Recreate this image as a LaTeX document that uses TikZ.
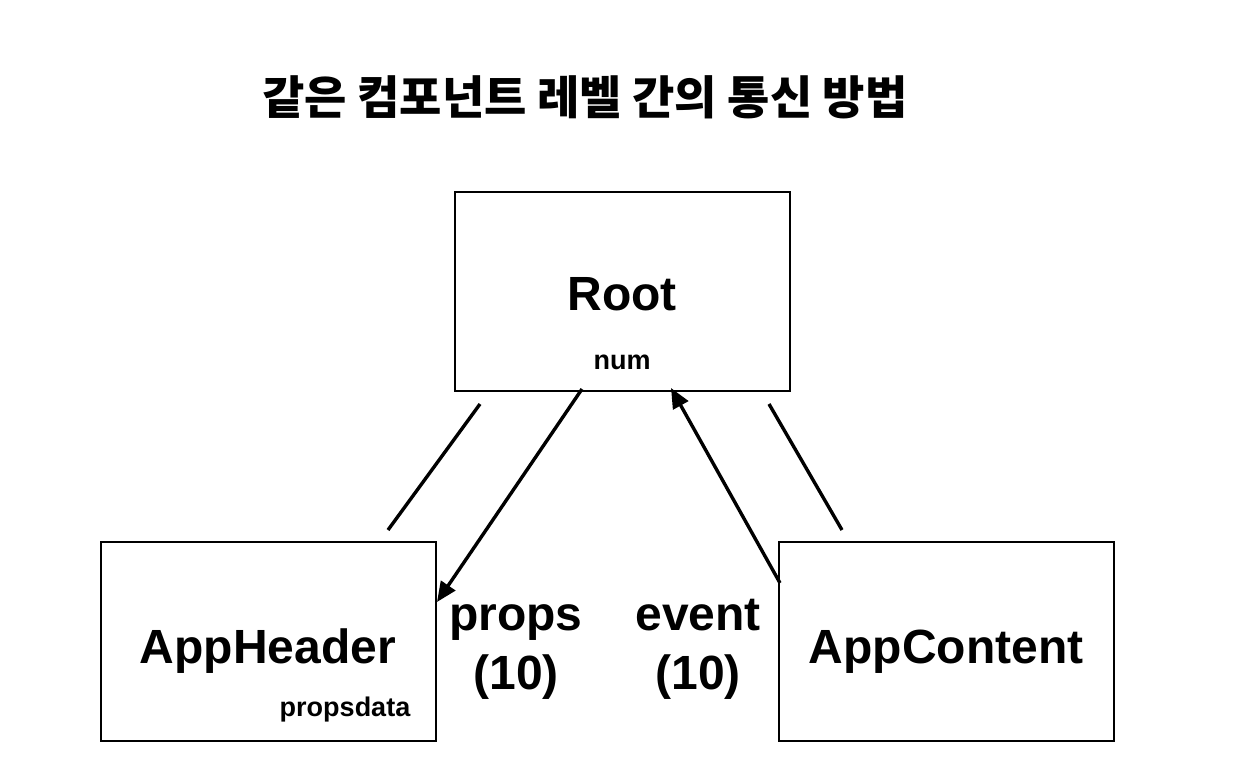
\documentclass[tikz,border=0pt]{standalone}
\usepackage{fontspec}
\setmainfont{Liberation Sans}
\newfontfamily\krfont{Noto Sans CJK KR}
\usetikzlibrary{arrows.meta}
\tikzset{
  box/.style={draw=black,line width=2pt,minimum width=335pt,minimum height=199pt,inner sep=0pt},
  big/.style={font=\fontsize{48}{52}\selectfont\bfseries,anchor=base,inner sep=0pt},
  small/.style={font=\fontsize{27}{30}\selectfont\bfseries,anchor=base,inner sep=0pt},
  link/.style={line width=3.4pt},
  arrowlink/.style={line width=3.4pt,-{Triangle[length=20pt,width=17pt]}}
}
\begin{document}
\begin{tikzpicture}[x=1pt,y=-1pt]
\useasboundingbox (0,0) rectangle (1246,782);
\node[font=\krfont\fontsize{46}{50}\selectfont\bfseries,anchor=base,inner sep=0pt] (title) at (585,114) {같은 컴포넌트 레벨 간의 통신 방법};
\node[box] (root) at (622.5,291.5) {};
\node[box] (header) at (268.5,641.5) {};
\node[box] (content) at (946.5,641.5) {};
\node[big] (rootlbl) at (622,310) {Root};
\node[small] (num) at (622,369) {num};
\node[big] (headerlbl) at (268,663) {AppHeader};
\node[small] (pdata) at (345,716) {propsdata};
\node[big] (contentlbl) at (946,663) {AppContent};
\node[big] (props) at (516,630) {props};
\node[big] (props10) at (516,689) {(10)};
\node[big] (event) at (698,630) {event};
\node[big] (event10) at (698,689) {(10)};
\coordinate (l1a) at (480,404);
\coordinate (l1b) at (388,530);
\coordinate (l2a) at (769,404);
\coordinate (l2b) at (842,530);
\coordinate (pa) at (582,389);
\coordinate (pb) at (437,602);
\coordinate (ea) at (780,583);
\coordinate (eb) at (671,388);
\draw[link] (l1a) -- (l1b);
\draw[link] (l2a) -- (l2b);
\draw[arrowlink] (pa) -- (pb);
\draw[arrowlink] (ea) -- (eb);
\end{tikzpicture}
\end{document}
